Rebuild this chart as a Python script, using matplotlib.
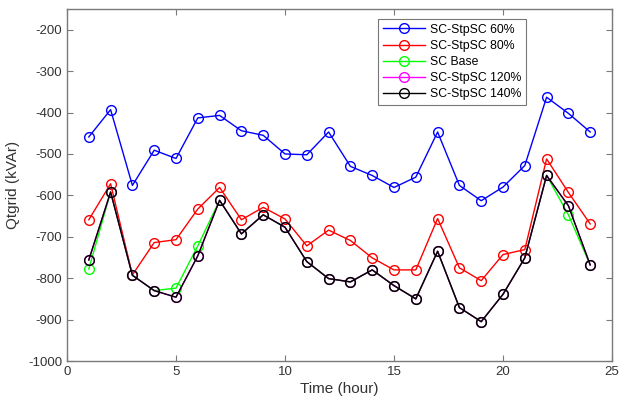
import matplotlib
matplotlib.use("Agg")
import matplotlib.pyplot as plt

hours = list(range(1, 25))

sc_stpsc_60 = [-459, -393, -576, -491, -511, -413, -407, -444, -455, -500, -502, -447,
               -530, -552, -581, -556, -447, -576, -613, -580, -528, -363, -402, -447]
sc_stpsc_80 = [-659, -572, -792, -714, -707, -633, -581, -659, -629, -657, -722, -684,
               -709, -751, -780, -780, -656, -775, -806, -743, -731, -512, -593, -669]
sc_base = [-778, -592, -793, -830, -824, -722, -612, -693, -647, -677, -760, -801,
           -809, -780, -818, -850, -735, -871, -905, -839, -751, -552, -647, -768]
sc_stpsc_120 = [-756, -592, -793, -830, -846, -746, -612, -693, -647, -677, -760, -801,
                -809, -780, -818, -850, -735, -871, -905, -839, -751, -552, -625, -768]
sc_stpsc_140 = [-756, -592, -793, -830, -846, -746, -612, -693, -647, -677, -760, -801,
                -809, -780, -818, -850, -735, -871, -905, -839, -751, -552, -625, -768]

series = [
    ("SC-StpSC 60%", sc_stpsc_60, "#0000ff"),
    ("SC-StpSC 80%", sc_stpsc_80, "#ff0000"),
    ("SC Base", sc_base, "#00ff00"),
    ("SC-StpSC 120%", sc_stpsc_120, "#ff00ff"),
    ("SC-StpSC 140%", sc_stpsc_140, "#000000"),
]

plt.rcParams["font.family"] = ["Liberation Sans", "DejaVu Sans"]
plt.rcParams["axes.unicode_minus"] = False

fig = plt.figure(figsize=(6.19, 4.05), dpi=100)
ax = fig.add_axes([67 / 619, 44 / 405, 545 / 619, 352 / 405])

for label, vals, color in series:
    ax.plot(hours, vals, color=color, lw=1.0, marker="o", markersize=7,
            markerfacecolor="none", markeredgecolor=color, markeredgewidth=1.0,
            label=label)

ax.set_xlim(0, 25)
ax.set_ylim(-1000, -150)
ax.set_xticks([0, 5, 10, 15, 20, 25])
ax.set_yticks(list(range(-1000, -199, 100)))

axis_gray = "#7a7a7a"
for sp in ax.spines.values():
    sp.set_color(axis_gray)
    sp.set_linewidth(1.0)
ax.tick_params(direction="in", top=True, right=True, length=4, width=0.8,
               colors=axis_gray, labelcolor="#333333", labelsize=9.5)

ax.set_xlabel("Time (hour)", fontsize=11, color="#333333", labelpad=3)
ax.set_ylabel("Qtgrid (kVAr)", fontsize=11, color="#333333", labelpad=6)

leg = ax.legend(loc="upper right", bbox_to_anchor=(0.842, 0.972), fontsize=8.8,
                frameon=True, fancybox=False, borderpad=0.4, labelspacing=0.33,
                handlelength=3.4, handletextpad=0.4, borderaxespad=0)
leg.get_frame().set_edgecolor("#555555")
leg.get_frame().set_linewidth(0.8)

fig.savefig("out.png", dpi=100)
